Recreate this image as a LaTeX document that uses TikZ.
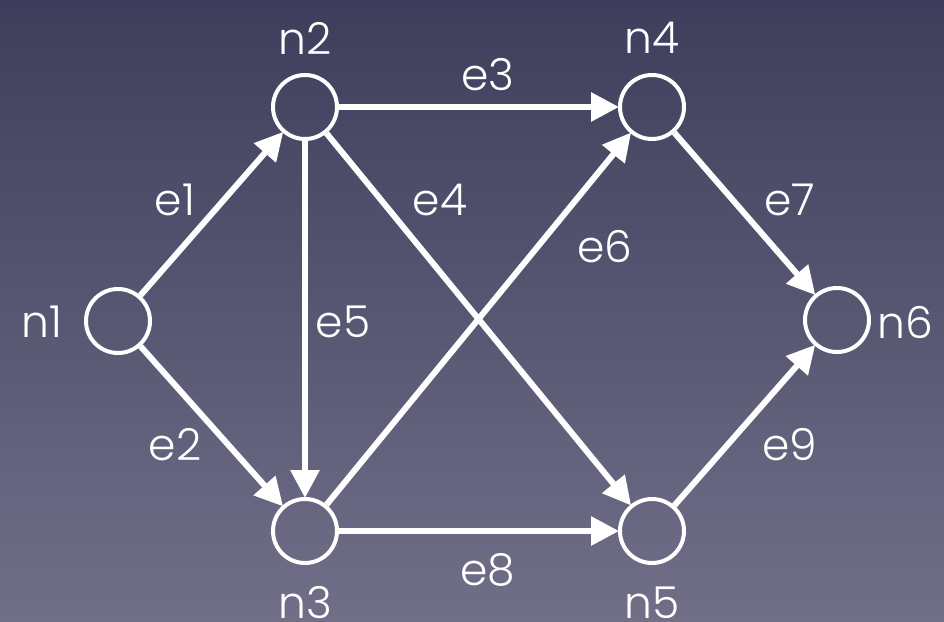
\documentclass[tikz,border=0pt]{standalone}
\usepackage{fontspec}
\setmainfont{Poppins}[UprightFont=* Light]
\usetikzlibrary{arrows.meta}
\definecolor{bgtop}{RGB}{62,62,92}
\definecolor{bgbot}{RGB}{113,111,136}
\tikzset{
  vtx/.style={circle,draw=white,line width=4pt,minimum size=64pt,inner sep=0pt},
  lbl/.style={text=white,font=\fontsize{44}{44}\selectfont,inner sep=0pt},
  edge/.style={draw=white,line width=6pt,-{Triangle[length=28pt,width=28pt]},shorten >=-1pt}
}
\begin{document}
\begin{tikzpicture}[x=1pt,y=-1pt]
\shade[top color=bgtop,bottom color=bgbot] (0,0) rectangle (944,621);
\useasboundingbox (0,0) rectangle (944,621);
\node[vtx] (n1) at (118,321) {};
\node[vtx] (n2) at (305,107) {};
\node[vtx] (n3) at (305,531) {};
\node[vtx] (n4) at (652,107) {};
\node[vtx] (n5) at (652,531) {};
\node[vtx] (n6) at (837,320) {};
\node[lbl] (ln1) at (42,322) {n1};
\node[lbl] (ln2) at (305,38) {n2};
\node[lbl] (ln3) at (305,603) {n3};
\node[lbl] (ln4) at (652,38) {n4};
\node[lbl] (ln5) at (652,603) {n5};
\node[lbl] (ln6) at (905,322) {n6};
\draw[edge] (n1) -- (n2);
\draw[edge] (n1) -- (n3);
\draw[edge] (n2) -- (n4);
\draw[edge] (n2) -- (n5);
\draw[edge] (n2) -- (n3);
\draw[edge] (n3) -- (n4);
\draw[edge] (n4) -- (n6);
\draw[edge] (n3) -- (n5);
\draw[edge] (n5) -- (n6);
\node[lbl] (le1) at (175,200) {e1};
\node[lbl] (le2) at (175,445) {e2};
\node[lbl] (le3) at (488,75) {e3};
\node[lbl] (le4) at (440,200) {e4};
\node[lbl] (le5) at (343,322) {e5};
\node[lbl] (le6) at (605,247) {e6};
\node[lbl] (le7) at (790,200) {e7};
\node[lbl] (le8) at (488,570) {e8};
\node[lbl] (le9) at (790,445) {e9};
\end{tikzpicture}
\end{document}
